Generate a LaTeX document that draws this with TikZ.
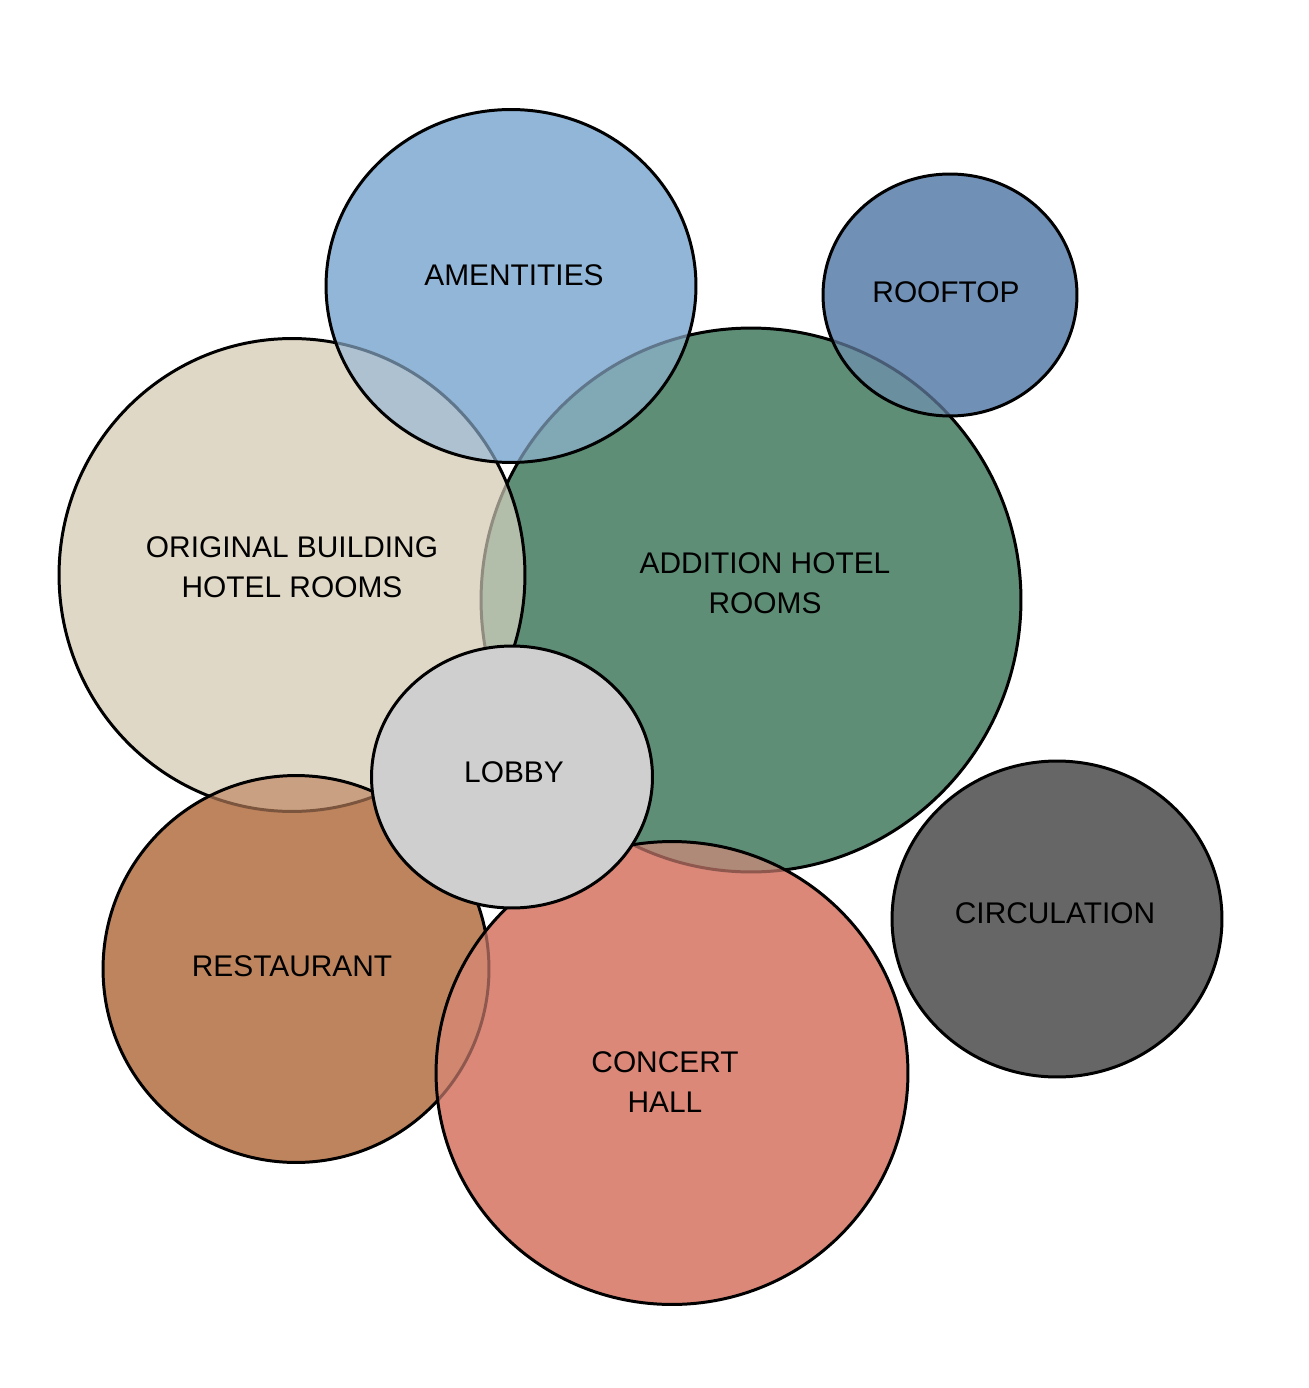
\documentclass[tikz,border=0pt]{standalone}
\usepackage{fontspec}
\setmainfont{Liberation Sans}
\usepackage{tikz}
\usetikzlibrary{shapes.geometric, calc, backgrounds}

\definecolor{origfill}{HTML}{E0D8C6}
\definecolor{addfill}{HTML}{5F8E77}
\definecolor{amenfill}{HTML}{92B6D7}
\definecolor{roofill}{HTML}{7090B5}
\definecolor{lobbyfill}{HTML}{CFCFCF}
\definecolor{restfill}{HTML}{BE845E}
\definecolor{concfill}{HTML}{DB8879}
\definecolor{circfill}{HTML}{666666}

\begin{document}
\begin{tikzpicture}[
    x=0.02cm, y=-0.02cm,
    bubble/.style={ellipse, draw=black, line width=1.7pt, fill opacity=0.65, inner sep=0pt, outer sep=0pt},
    solidbubble/.style={ellipse, draw=black, line width=1.7pt, inner sep=0pt, outer sep=0pt},
    tag/.style={align=center, text=black, font=\fontsize{17}{22.7}\selectfont}
]
\useasboundingbox (0,0) rectangle (1308,1388);

% =============================================================
% Bubbles (back to front)
% =============================================================
\node[bubble, fill=addfill, minimum width=10.8cm, minimum height=10.88cm] (addition) at (751, 600) {};
\node[bubble, fill=origfill, minimum width=9.32cm, minimum height=9.46cm] (original) at (292, 575) {};
\node[bubble, fill=amenfill, minimum width=7.4cm, minimum height=7.06cm] (amenities) at (511, 286) {};
\node[bubble, fill=roofill, minimum width=5.08cm, minimum height=4.84cm] (rooftop) at (950, 295) {};
\node[bubble, fill=restfill, minimum width=7.72cm, minimum height=7.74cm] (restaurant) at (296, 969) {};
\node[bubble, fill=concfill, minimum width=9.44cm, minimum height=9.26cm] (concert) at (672, 1073) {};
\node[solidbubble, fill=circfill, minimum width=6.6cm, minimum height=6.32cm] (circulation) at (1057, 919) {};
\node[solidbubble, fill=lobbyfill, minimum width=5.62cm, minimum height=5.24cm] (lobby) at (512, 777) {};

% solid base under the see-through bubbles (reverse order)
\begin{scope}[on background layer]
  \foreach \bname/\bcol in {concert/concfill, restaurant/restfill, rooftop/roofill, amenities/amenfill, original/origfill, addition/addfill}
    \fill[\bcol] let \p1=(\bname.center), \p2=(\bname.east), \p3=(\bname.north) in (\p1) ellipse ({\x2-\x1} and {\y3-\y1});
\end{scope}

% =============================================================
% Labels
% =============================================================
\node[tag] (originaltag) at (292, 567) {ORIGINAL BUILDING\\HOTEL ROOMS};
\node[tag] (additiontag) at (765, 583) {ADDITION HOTEL\\ROOMS};
\node[tag] (amenitiestag) at (514, 275) {AMENTITIES};
\node[tag] (rooftoptag) at (946, 292) {ROOFTOP};
\node[tag] (lobbytag) at (514, 772) {LOBBY};
\node[tag] (restauranttag) at (292, 966) {RESTAURANT};
\node[tag] (concerttag) at (665, 1082) {CONCERT\\HALL};
\node[tag] (circulationtag) at (1055, 913) {CIRCULATION};

\end{tikzpicture}
\end{document}
